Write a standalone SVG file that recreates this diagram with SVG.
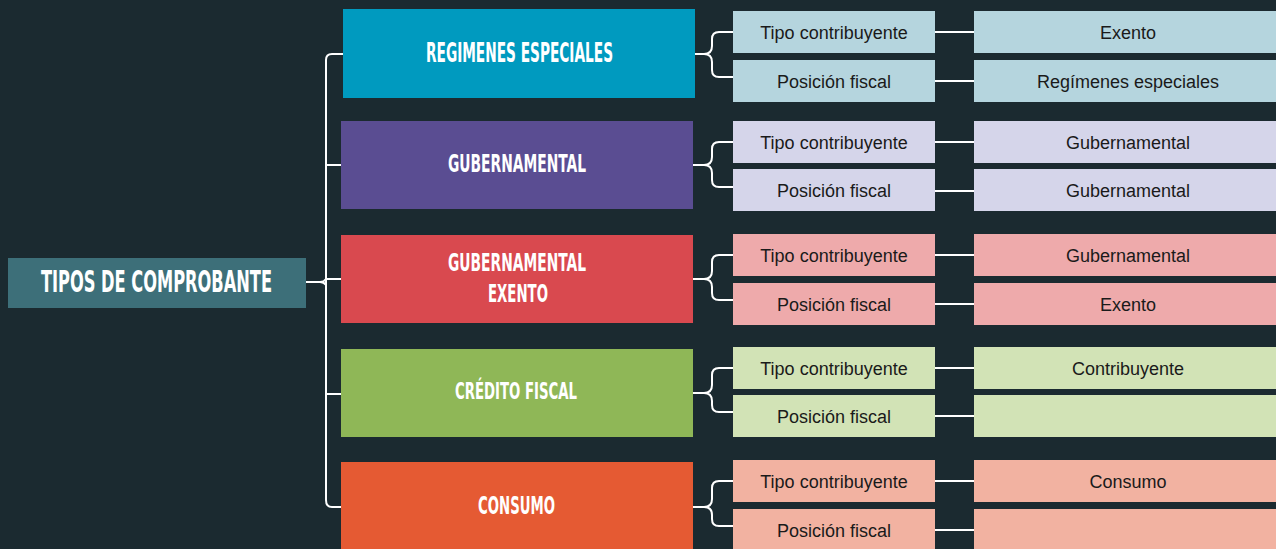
<svg xmlns="http://www.w3.org/2000/svg" width="1276" height="549" viewBox="0 0 1276 549">
<style>
.bg{fill:#1b2a30}
.hd{font-family:"DejaVu Sans Condensed","DejaVu Sans",sans-serif;font-weight:bold;fill:#ffffff;text-anchor:middle}
.tx{font-family:"Liberation Sans",Arial,sans-serif;font-size:18px;fill:#1a1a1a;text-anchor:middle}
.ln{fill:none;stroke:#ffffff;stroke-width:2;stroke-linecap:round;stroke-linejoin:round}
.c1{fill:#b5d5de}.c2{fill:#d5d5ea}.c3{fill:#eeaaab}.c4{fill:#d2e3b6}.c5{fill:#f2b2a1}
</style>
<rect class="bg" x="0" y="0" width="1276" height="549"/>
<g id="connectors">
<path class="ln" d="M306,282 H320 Q324,282 326,279 M320,282 Q324,282 326,285"/>
<path class="ln" d="M343,54 H332 Q326,54 326,60 V500 Q326,507 332,507 H341"/>
<path class="ln" d="M326,165 H341 M326,279 H341 M326,394 H341"/>
<path class="ln" d="M695,54 H704 Q712,54 712,46 V39 Q712,32 719,32 H733 M704,54 Q712,54 712,62 V70 Q712,77 719,77 H733"/>
<path class="ln" d="M693,165 H704 Q712,165 712,157 V149 Q712,142 719,142 H733 M704,165 Q712,165 712,173 V180 Q712,187 719,187 H733"/>
<path class="ln" d="M693,279 H704 Q712,279 712,271 V262 Q712,255 719,255 H733 M704,279 Q712,279 712,287 V293 Q712,300 719,300 H733"/>
<path class="ln" d="M693,393 H704 Q712,393 712,385 V375 Q712,368 719,368 H733 M704,393 Q712,393 712,401 V405 Q712,412 719,412 H733"/>
<path class="ln" d="M693,507 H704 Q712,507 712,499 V488 Q712,481 719,481 H733 M704,507 Q712,507 712,515 V519 Q712,526 719,526 H733"/>
<path class="ln" d="M935,32 H974 M935,81 H974 M935,142 H974 M935,191 H974 M935,255 H974 M935,304 H974 M935,368 H974 M935,416 H974 M935,481 H974 M935,530 H974"/>
</g>
<g id="root">
<rect x="8" y="258" width="298" height="50" fill="#3d6f79"/>
<text class="hd" x="156.5" y="292" font-size="30" textLength="231" lengthAdjust="spacingAndGlyphs">TIPOS DE COMPROBANTE</text>
</g>
<g id="cat-regimenes">
<rect x="343" y="9" width="352" height="89" fill="#009abf"/>
<text class="hd" x="519.5" y="62" font-size="26" textLength="187" lengthAdjust="spacingAndGlyphs">REGIMENES ESPECIALES</text>
</g>
<g id="cat-gubernamental">
<rect x="341" y="121" width="352" height="88" fill="#5a4d92"/>
<text class="hd" x="517" y="172" font-size="24" textLength="138" lengthAdjust="spacingAndGlyphs">GUBERNAMENTAL</text>
</g>
<g id="cat-gub-exento">
<rect x="341" y="235" width="352" height="88" fill="#d9494f"/>
<text class="hd" x="517" y="271" font-size="25" textLength="138" lengthAdjust="spacingAndGlyphs">GUBERNAMENTAL</text>
<text class="hd" x="518" y="302" font-size="25" textLength="60" lengthAdjust="spacingAndGlyphs">EXENTO</text>
</g>
<g id="cat-credito">
<rect x="341" y="349" width="352" height="88" fill="#8fb757"/>
<text class="hd" x="516" y="399" font-size="23" textLength="122" lengthAdjust="spacingAndGlyphs">CRÉDITO FISCAL</text>
</g>
<g id="cat-consumo">
<rect x="341" y="462" width="352" height="90" fill="#e55a33"/>
<text class="hd" x="516.5" y="514" font-size="24" textLength="77" lengthAdjust="spacingAndGlyphs">CONSUMO</text>
</g>
<g id="g1-tipo"><rect class="c1" x="733" y="11" width="202" height="42"/><text class="tx" x="834" y="38.5">Tipo contribuyente</text></g>
<g id="g1-pos"><rect class="c1" x="733" y="60" width="202" height="42"/><text class="tx" x="834" y="87.5">Posición fiscal</text></g>
<g id="g1-v1"><rect class="c1" x="974" y="11" width="302" height="42"/><text class="tx" x="1128" y="38.5">Exento</text></g>
<g id="g1-v2"><rect class="c1" x="974" y="60" width="302" height="42"/><text class="tx" x="1128" y="87.5">Regímenes  especiales</text></g>
<g id="g2-tipo"><rect class="c2" x="733" y="121" width="202" height="42"/><text class="tx" x="834" y="148.5">Tipo contribuyente</text></g>
<g id="g2-pos"><rect class="c2" x="733" y="169" width="202" height="42"/><text class="tx" x="834" y="196.5">Posición fiscal</text></g>
<g id="g2-v1"><rect class="c2" x="974" y="121" width="302" height="42"/><text class="tx" x="1128" y="148.5">Gubernamental</text></g>
<g id="g2-v2"><rect class="c2" x="974" y="169" width="302" height="42"/><text class="tx" x="1128" y="196.5">Gubernamental</text></g>
<g id="g3-tipo"><rect class="c3" x="733" y="234" width="202" height="42"/><text class="tx" x="834" y="261.5">Tipo contribuyente</text></g>
<g id="g3-pos"><rect class="c3" x="733" y="283" width="202" height="42"/><text class="tx" x="834" y="310.5">Posición fiscal</text></g>
<g id="g3-v1"><rect class="c3" x="974" y="234" width="302" height="42"/><text class="tx" x="1128" y="261.5">Gubernamental</text></g>
<g id="g3-v2"><rect class="c3" x="974" y="283" width="302" height="42"/><text class="tx" x="1128" y="310.5">Exento</text></g>
<g id="g4-tipo"><rect class="c4" x="733" y="347" width="202" height="42"/><text class="tx" x="834" y="374.5">Tipo contribuyente</text></g>
<g id="g4-pos"><rect class="c4" x="733" y="395" width="202" height="42"/><text class="tx" x="834" y="422.5">Posición fiscal</text></g>
<g id="g4-v1"><rect class="c4" x="974" y="347" width="302" height="42"/><text class="tx" x="1128" y="374.5">Contribuyente</text></g>
<g id="g4-v2"><rect class="c4" x="974" y="395" width="302" height="42"/></g>
<g id="g5-tipo"><rect class="c5" x="733" y="460" width="202" height="42"/><text class="tx" x="834" y="487.5">Tipo contribuyente</text></g>
<g id="g5-pos"><rect class="c5" x="733" y="509" width="202" height="42"/><text class="tx" x="834" y="536.5">Posición fiscal</text></g>
<g id="g5-v1"><rect class="c5" x="974" y="460" width="302" height="42"/><text class="tx" x="1128" y="487.5">Consumo</text></g>
<g id="g5-v2"><rect class="c5" x="974" y="509" width="302" height="42"/></g>
</svg>
